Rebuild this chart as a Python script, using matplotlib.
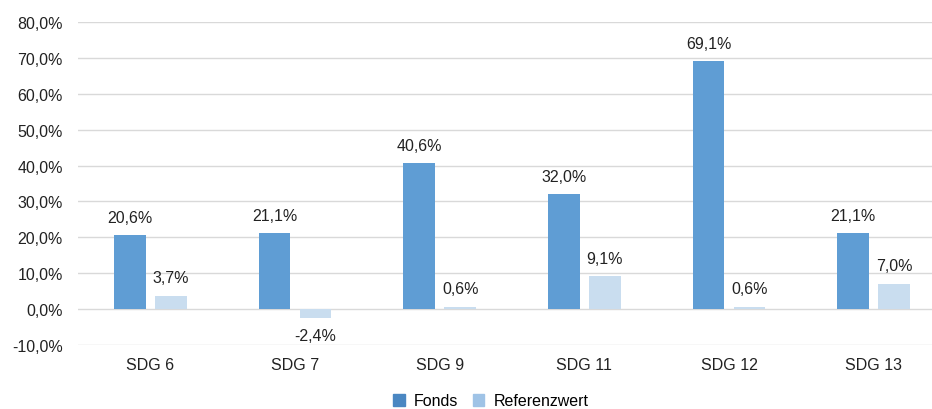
import numpy as np
import matplotlib.pyplot as plt
from matplotlib.patches import Patch

categories = ["SDG 6", "SDG 7", "SDG 9", "SDG 11", "SDG 12", "SDG 13"]
fonds = [20.6, 21.1, 40.6, 32.0, 69.1, 21.1]
referenz = [3.7, -2.4, 0.6, 9.1, 0.6, 7.0]
yticks = [-10, 0, 10, 20, 30, 40, 50, 60, 70, 80]

plt.rcParams["font.family"] = ["Liberation Sans", "DejaVu Sans"]

c_fonds = "#5f9dd4"
c_ref = "#c9ddef"
fs = 11.5

fig = plt.figure(figsize=(9.32, 4.10), dpi=100)
ax = fig.add_axes([78 / 932, 64 / 410, 868 / 932, 323 / 410])

x = np.arange(len(categories))
w = 0.22
off = 0.142
ax.bar(x - off, fonds, w, color=c_fonds, zorder=3)
ax.bar(x + off, referenz, w, color=c_ref, zorder=3)

def fmt(v):
    return f"{v:.1f}%".replace(".", ",")

for xs, vals in ((x - off, fonds), (x + off, referenz)):
    for xi, v in zip(xs, vals):
        dy = 13 if v >= 0 else -13
        ax.annotate(fmt(v), (xi, v), xytext=(0, dy), textcoords="offset points",
                    ha="center", va="center", fontsize=fs, color="#222222")

ax.set_xlim(-0.5, len(categories) - 0.5)
ax.set_ylim(-10, 80)
ax.set_yticks(yticks)
ax.set_yticklabels([f"{t:.1f}%".replace(".", ",") for t in yticks])
ax.set_xticks(x)
ax.set_xticklabels(categories)
ax.tick_params(axis="both", length=0, labelsize=fs, labelcolor="#222222")
ax.tick_params(axis="y", pad=11)
ax.tick_params(axis="x", pad=9)
ax.grid(axis="y", color="#d9d9d9", linewidth=1, zorder=0)
for s in ax.spines.values():
    s.set_visible(False)

handles = [Patch(color="#4a87c2"), Patch(color="#9fc3e6")]
fig.legend(handles, ["Fonds", "Referenzwert"], loc="center", bbox_to_anchor=(491 / 932, 8 / 410),
           ncol=2, frameon=False, fontsize=fs, handlelength=0.7, handleheight=0.7,
           handletextpad=0.6, columnspacing=0.9)

fig.savefig("out.png", dpi=100)
